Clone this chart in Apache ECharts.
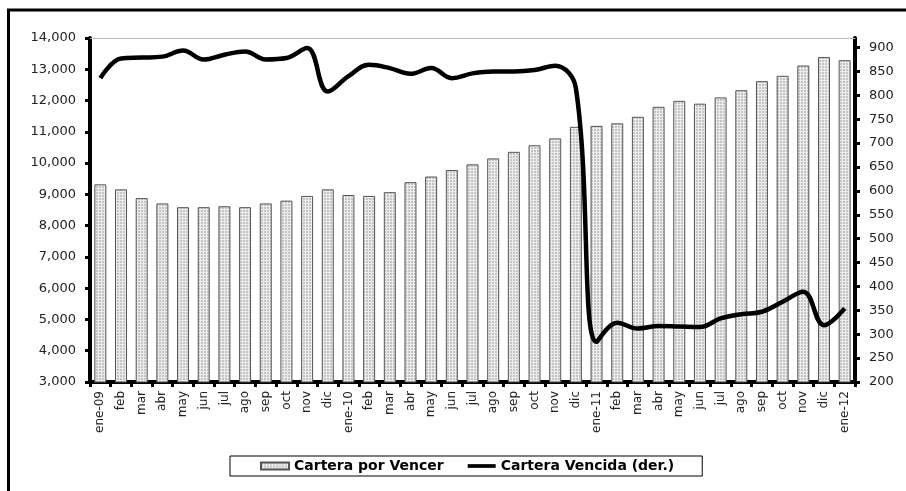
<!DOCTYPE html>
<html>
<head>
<meta charset="utf-8">
<title>Cartera</title>
<script src="https://cdn.jsdelivr.net/npm/echarts@6/dist/echarts.min.js"></script>
<style>
  html, body { margin: 0; padding: 0; background: #fff; }
  #chart { width: 906px; height: 491px; }
</style>
</head>
<body>
<div id="chart"></div>
<script>
// meses
var categories = [
  "ene-09", "feb", "mar", "abr", "may", "jun", "jul", "ago", "sep", "oct", "nov", "dic",
  "ene-10", "feb", "mar", "abr", "may", "jun", "jul", "ago", "sep", "oct", "nov", "dic",
  "ene-11", "feb", "mar", "abr", "may", "jun", "jul", "ago", "sep", "oct", "nov", "dic",
  "ene-12"
];
// Cartera por Vencer (eje izq.)
var porVencer = [
  9320, 9160, 8880, 8710, 8590, 8590, 8620, 8590, 8710, 8800, 8950, 9160,
  8980, 8950, 9070, 9390, 9570, 9780, 9960, 10150, 10360, 10570, 10790, 11160,
  11190, 11270, 11480, 11800, 11990, 11900, 12100, 12330, 12620, 12790, 13120, 13390,
  13290
];
// Cartera Vencida (eje der.)
var vencida = [
  836, 877, 879, 881, 894, 875, 885, 892, 875, 878, 899, 808,
  840, 864, 857, 845, 857, 836, 846, 850, 850, 853, 862, 815,
  284, 324, 312, 317, 316, 315, 333, 342, 347, 368, 389, 319,
  354
];

// trama punteada de las barras
var pattern = document.createElement("canvas");
pattern.width = 3;
pattern.height = 3;
var ctx = pattern.getContext("2d");
ctx.fillStyle = "#ececec";
ctx.fillRect(0, 0, 3, 3);
ctx.fillStyle = "#c4c4c4";
ctx.fillRect(0, 0, 2, 2);

var font = "DejaVu Sans";
var myChart = echarts.init(document.getElementById("chart"));

var option = {
  backgroundColor: "#fff",
  animation: false,
  grid: { left: 90, right: 51, top: 38, bottom: 109 },
  // marco exterior
  graphic: [
    {
      type: "rect",
      shape: { x: 8.5, y: 10, width: 1000, height: 1000 },
      style: { fill: "none", stroke: "#000", lineWidth: 3 },
      silent: true
    }
  ],
  legend: {
    left: 230,
    top: 456,
    padding: [3, 28, 3, 30],
    itemGap: 24,
    itemWidth: 28,
    itemHeight: 7,
    borderColor: "#000",
    borderWidth: 1,
    textStyle: { fontFamily: font, fontWeight: "bold", fontSize: 14, color: "#000" },
    data: [
      { name: "Cartera por Vencer", icon: "rect" },
      { name: "Cartera Vencida (der.)", icon: "path://M0,0 L30,0 L30,4 L0,4 Z" }
    ]
  },
  xAxis: [
    {
      type: "category",
      data: categories,
      boundaryGap: true,
      axisLine: { lineStyle: { color: "#000", width: 4 } },
      axisTick: { show: true, length: 5, lineStyle: { color: "#000", width: 3 } },
      axisLabel: {
        rotate: 90,
        interval: 0,
        margin: 9,
        fontFamily: font,
        fontSize: 12,
        color: "#222"
      }
    },
    {
      // línea gris superior del área
      type: "category",
      data: categories,
      position: "top",
      axisLine: { lineStyle: { color: "#b8b8b8", width: 1 } },
      axisTick: { show: false },
      axisLabel: { show: false }
    }
  ],
  yAxis: [
    {
      type: "value",
      min: 3000,
      max: 14000,
      interval: 1000,
      axisLine: { show: true, lineStyle: { color: "#000", width: 4 } },
      axisTick: { show: true, length: 5, lineStyle: { color: "#000", width: 3 } },
      splitLine: { show: false },
      axisLabel: {
        margin: 14,
        fontFamily: font,
        fontSize: 13,
        color: "#222",
        formatter: function (v) {
          return v.toLocaleString("en-US");
        }
      }
    },
    {
      type: "value",
      position: "right",
      min: 200,
      max: 920,
      interval: 50,
      axisLine: { show: true, lineStyle: { color: "#000", width: 4 } },
      axisTick: { show: true, length: 5, lineStyle: { color: "#000", width: 3 } },
      splitLine: { show: false },
      axisLabel: {
        margin: 14,
        fontFamily: font,
        fontSize: 13,
        color: "#222",
        showMaxLabel: false
      }
    }
  ],
  series: [
    {
      name: "Cartera por Vencer",
      type: "bar",
      data: porVencer,
      barWidth: 12,
      itemStyle: {
        color: { image: pattern, repeat: "repeat" },
        borderColor: "#555",
        borderWidth: 1
      }
    },
    {
      name: "Cartera Vencida (der.)",
      type: "line",
      yAxisIndex: 1,
      data: vencida,
      smooth: 0.4,
      symbol: "none",
      lineStyle: { color: "#000", width: 4.5 },
      itemStyle: { color: "#000" }
    }
  ]
};

myChart.setOption(option);
</script>
</body>
</html>
